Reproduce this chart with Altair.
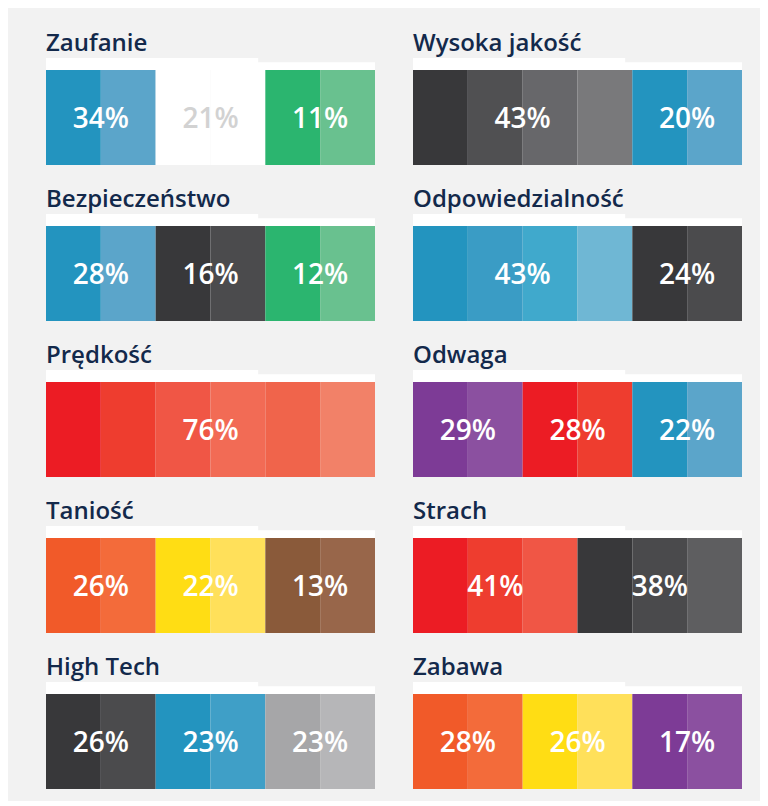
import altair as alt
import pandas as pd

panels = ["Zaufanie", "Wysoka jakość", "Bezpieczeństwo", "Odpowiedzialność",
          "Prędkość", "Odwaga", "Taniość", "Strach", "High Tech", "Zabawa"]

BLUE = ["#2394bf", "#5ba5ca"]
GREEN = ["#2bb56f", "#69c18f"]
DARK = ["#38383a", "#4b4b4d"]
ORANGE = ["#f15a29", "#f36b3a"]
YELLOW = ["#ffdd14", "#ffe05a"]
PURPLE = ["#7d3b96", "#8b50a0"]
REDS = ["#ec1c24", "#ee3d2f", "#f05645"]

segment_colors = {
    "Zaufanie": BLUE + ["#ffffff", "#ffffff"] + GREEN,
    "Wysoka jakość": ["#38383a", "#505052", "#67676a", "#79797b"] + BLUE,
    "Bezpieczeństwo": BLUE + DARK + GREEN,
    "Odpowiedzialność": ["#2394bf", "#3a9cc5", "#40a9cc", "#6fb7d4"] + DARK,
    "Prędkość": ["#ec1c24", "#ee3d2f", "#f05645", "#f26b55", "#f0644b", "#f28168"],
    "Odwaga": PURPLE + ["#ec1c24", "#ee3d2f"] + BLUE,
    "Taniość": ORANGE + YELLOW + ["#8a5a3a", "#98664a"],
    "Strach": REDS + ["#38383a", "#4a4a4c", "#5e5e60"],
    "High Tech": DARK + ["#2394bf", "#3f9fc7"] + ["#a6a6a8", "#b6b6b8"],
    "Zabawa": ORANGE + YELLOW + PURPLE,
}

# (percentage, number of segments covered)
groups = {
    "Zaufanie": [(34, 2), (21, 2), (11, 2)],
    "Wysoka jakość": [(43, 4), (20, 2)],
    "Bezpieczeństwo": [(28, 2), (16, 2), (12, 2)],
    "Odpowiedzialność": [(43, 4), (24, 2)],
    "Prędkość": [(76, 6)],
    "Odwaga": [(29, 2), (28, 2), (22, 2)],
    "Taniość": [(26, 2), (22, 2), (13, 2)],
    "Strach": [(41, 3), (38, 3)],
    "High Tech": [(26, 2), (23, 2), (23, 2)],
    "Zabawa": [(28, 2), (26, 2), (17, 2)],
}

rows = []
for p in panels:
    for i, c in enumerate(segment_colors[p]):
        rows.append({"panel": p, "kind": "seg", "x": i, "x2": i + 1, "color": c,
                     "xc": None, "label": None, "tcolor": None})
    start = 0
    for val, n in groups[p]:
        first = segment_colors[p][start]
        tc = "#d2d2d2" if first == "#ffffff" else "#ffffff"
        rows.append({"panel": p, "kind": "lab", "x": None, "x2": None, "color": None,
                     "xc": start + n / 2, "label": f"{val}%", "tcolor": tc})
        start += n
    rows.append({"panel": p, "kind": "strip", "x": 0, "x2": 6, "color": "#ffffff",
                 "xc": None, "label": None, "tcolor": None})
    rows.append({"panel": p, "kind": "strip2", "x": 0, "x2": 3.87, "color": "#ffffff",
                 "xc": None, "label": None, "tcolor": None})

df = pd.DataFrame(rows)

xs = alt.Scale(domain=[0, 6], nice=False, zero=False)
ys = alt.Scale(domain=[0, 1.125], nice=False, zero=False)

segs = alt.Chart().transform_filter(alt.datum.kind == "seg").mark_rect().encode(
    x=alt.X("x:Q", scale=xs, axis=None),
    x2="x2:Q",
    y=alt.Y(datum=0, scale=ys, axis=None),
    y2=alt.Y2(datum=1),
    color=alt.Color("color:N", scale=None),
)

strip = alt.Chart().transform_filter(alt.datum.kind == "strip").mark_rect().encode(
    x=alt.X("x:Q", scale=xs, axis=None),
    x2="x2:Q",
    y=alt.Y(datum=1, scale=ys, axis=None),
    y2=alt.Y2(datum=1.08),
    color=alt.Color("color:N", scale=None),
)

strip2 = alt.Chart().transform_filter(alt.datum.kind == "strip2").mark_rect().encode(
    x=alt.X("x:Q", scale=xs, axis=None),
    x2="x2:Q",
    y=alt.Y(datum=1.07, scale=ys, axis=None),
    y2=alt.Y2(datum=1.125),
    color=alt.Color("color:N", scale=None),
)

labels = alt.Chart().transform_filter(alt.datum.kind == "lab").mark_text(
    font="Open Sans", fontSize=28, fontWeight=600, baseline="middle", align="center",
    dy=3,
).encode(
    x=alt.X("xc:Q", scale=xs, axis=None),
    y=alt.Y(datum=0.5, scale=ys, axis=None),
    text="label:N",
    color=alt.Color("tcolor:N", scale=None),
)

chart = alt.layer(segs, strip, strip2, labels, data=df).properties(
    width=329, height=107
).facet(
    facet=alt.Facet("panel:N", sort=panels, title=None,
                    header=alt.Header(labelFontSize=24, labelFont="Open Sans",
                                      labelFontWeight=600, labelColor="#13294b",
                                      labelAnchor="start", labelAlign="left",
                                      labelPadding=2)),
    columns=2,
    spacing={"column": 38, "row": 23},
).properties(
    background="#f2f2f2",
    padding={"left": 38, "top": 24, "right": 18, "bottom": 12},
).configure_view(strokeWidth=0)

chart.save("out.html", embed_options={"renderer": "svg", "actions": False})
